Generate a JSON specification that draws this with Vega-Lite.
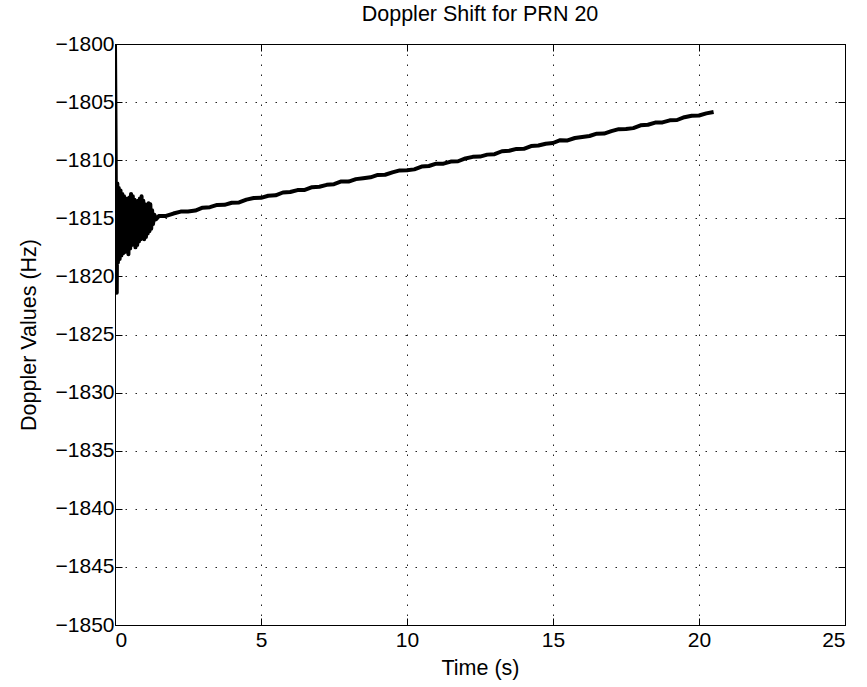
{
  "$schema": "https://vega.github.io/schema/vega-lite/v6.json",
  "width": 730,
  "height": 581,
  "autosize": {"type": "none"},
  "padding": {"left": 115, "top": 44, "right": 22, "bottom": 62},
  "background": "white",
  "title": {"text": "Doppler Shift for PRN 20", "font": "Liberation Sans", "fontSize": 21.5, "fontWeight": "normal", "color": "black", "offset": 8, "anchor": "middle"},
  "config": {
    "view": {"stroke": "black", "strokeWidth": 1},
    "axis": {"labelFont": "Liberation Sans", "titleFont": "Liberation Sans", "labelFontSize": 21, "titleFontSize": 21.5, "titleFontWeight": "normal", "labelColor": "black", "titleColor": "black", "domainColor": "black", "tickColor": "black", "gridColor": "#222", "gridDash": [1.5, 8.5], "gridWidth": 1, "gridOpacity": 1}
  },
  "data": {"values": [
    {"t": 0.0, "v": -1800},
    {"t": 0.02, "v": -1808},
    {"t": 0.04, "v": -1819},
    {"t": 0.06, "v": -1821.4},
    {"t": 0.08, "v": -1812},
    {"t": 0.10, "v": -1818.8},
    {"t": 0.13, "v": -1812.4},
    {"t": 0.16, "v": -1818.5},
    {"t": 0.19, "v": -1812.6},
    {"t": 0.22, "v": -1818.2},
    {"t": 0.25, "v": -1812.9},
    {"t": 0.28, "v": -1818},
    {"t": 0.31, "v": -1813.1},
    {"t": 0.34, "v": -1817.9},
    {"t": 0.37, "v": -1813.3},
    {"t": 0.40, "v": -1817.7},
    {"t": 0.43, "v": -1813.5},
    {"t": 0.46, "v": -1818.1},
    {"t": 0.49, "v": -1813.2},
    {"t": 0.52, "v": -1817.6},
    {"t": 0.55, "v": -1812.9},
    {"t": 0.58, "v": -1817.3},
    {"t": 0.61, "v": -1813.1},
    {"t": 0.64, "v": -1817.2},
    {"t": 0.67, "v": -1813.4},
    {"t": 0.70, "v": -1817.5},
    {"t": 0.73, "v": -1813.6},
    {"t": 0.76, "v": -1817.3},
    {"t": 0.79, "v": -1813.5},
    {"t": 0.82, "v": -1817},
    {"t": 0.85, "v": -1813.3},
    {"t": 0.88, "v": -1816.8},
    {"t": 0.91, "v": -1813.1},
    {"t": 0.94, "v": -1816.7},
    {"t": 0.97, "v": -1813.5},
    {"t": 1.00, "v": -1816.8},
    {"t": 1.03, "v": -1813.8},
    {"t": 1.06, "v": -1816.6},
    {"t": 1.09, "v": -1813.9},
    {"t": 1.12, "v": -1816.3},
    {"t": 1.15, "v": -1813.7},
    {"t": 1.18, "v": -1816.1},
    {"t": 1.21, "v": -1813.8},
    {"t": 1.24, "v": -1815.9},
    {"t": 1.27, "v": -1814.3},
    {"t": 1.30, "v": -1815.5},
    {"t": 1.35, "v": -1814.7},
    {"t": 1.40, "v": -1815.1},
    {"t": 1.50, "v": -1814.81},
    {"t": 1.75, "v": -1814.80},
    {"t": 2.00, "v": -1814.59},
    {"t": 2.25, "v": -1814.42},
    {"t": 2.50, "v": -1814.41},
    {"t": 2.75, "v": -1814.33},
    {"t": 3.00, "v": -1814.09},
    {"t": 3.25, "v": -1814.04},
    {"t": 3.50, "v": -1813.85},
    {"t": 3.75, "v": -1813.84},
    {"t": 4.00, "v": -1813.66},
    {"t": 4.25, "v": -1813.63},
    {"t": 4.50, "v": -1813.39},
    {"t": 4.75, "v": -1813.25},
    {"t": 5.00, "v": -1813.24},
    {"t": 5.25, "v": -1813.06},
    {"t": 5.50, "v": -1813.02},
    {"t": 5.75, "v": -1812.78},
    {"t": 6.00, "v": -1812.74},
    {"t": 6.25, "v": -1812.57},
    {"t": 6.50, "v": -1812.56},
    {"t": 6.75, "v": -1812.32},
    {"t": 7.00, "v": -1812.28},
    {"t": 7.25, "v": -1812.12},
    {"t": 7.50, "v": -1812.06},
    {"t": 7.75, "v": -1811.83},
    {"t": 8.00, "v": -1811.84},
    {"t": 8.25, "v": -1811.63},
    {"t": 8.50, "v": -1811.55},
    {"t": 8.75, "v": -1811.47},
    {"t": 9.00, "v": -1811.27},
    {"t": 9.25, "v": -1811.25},
    {"t": 9.50, "v": -1811.05},
    {"t": 9.75, "v": -1810.88},
    {"t": 10.00, "v": -1810.87},
    {"t": 10.25, "v": -1810.79},
    {"t": 10.50, "v": -1810.55},
    {"t": 10.75, "v": -1810.50},
    {"t": 11.00, "v": -1810.30},
    {"t": 11.25, "v": -1810.30},
    {"t": 11.50, "v": -1810.12},
    {"t": 11.75, "v": -1810.09},
    {"t": 12.00, "v": -1809.85},
    {"t": 12.25, "v": -1809.71},
    {"t": 12.50, "v": -1809.69},
    {"t": 12.75, "v": -1809.52},
    {"t": 13.00, "v": -1809.48},
    {"t": 13.25, "v": -1809.23},
    {"t": 13.50, "v": -1809.19},
    {"t": 13.75, "v": -1809.03},
    {"t": 14.00, "v": -1809.02},
    {"t": 14.25, "v": -1808.78},
    {"t": 14.50, "v": -1808.74},
    {"t": 14.75, "v": -1808.58},
    {"t": 15.00, "v": -1808.52},
    {"t": 15.25, "v": -1808.28},
    {"t": 15.50, "v": -1808.30},
    {"t": 15.75, "v": -1808.09},
    {"t": 16.00, "v": -1808.00},
    {"t": 16.25, "v": -1807.92},
    {"t": 16.50, "v": -1807.72},
    {"t": 16.75, "v": -1807.71},
    {"t": 17.00, "v": -1807.50},
    {"t": 17.25, "v": -1807.33},
    {"t": 17.50, "v": -1807.32},
    {"t": 17.75, "v": -1807.24},
    {"t": 18.00, "v": -1807.00},
    {"t": 18.25, "v": -1806.95},
    {"t": 18.50, "v": -1806.76},
    {"t": 18.75, "v": -1806.75},
    {"t": 19.00, "v": -1806.57},
    {"t": 19.25, "v": -1806.54},
    {"t": 19.50, "v": -1806.30},
    {"t": 19.75, "v": -1806.17},
    {"t": 20.00, "v": -1806.15},
    {"t": 20.25, "v": -1805.97},
    {"t": 20.50, "v": -1805.85}
  ]},
  "layer": [
    {
      "mark": {"type": "line", "color": "black", "strokeWidth": 4, "strokeJoin": "round", "clip": true},
      "encoding": {
        "x": {"field": "t", "type": "quantitative", "scale": {"domain": [0, 25], "nice": false}, "axis": {"title": "Time (s)", "values": [0, 5, 10, 15, 20, 25], "format": "d", "tickSize": -7, "labelPadding": 11, "titlePadding": 7, "grid": true}},
        "y": {"field": "v", "type": "quantitative", "scale": {"domain": [-1850, -1800], "nice": false, "zero": false}, "axis": {"title": "Doppler Values (Hz)", "values": [-1850, -1845, -1840, -1835, -1830, -1825, -1820, -1815, -1810, -1805, -1800], "format": "d", "tickSize": -7, "labelPadding": 8, "titlePadding": 15, "grid": true}}
      }
    },
    {
      "mark": {"type": "point", "opacity": 0},
      "encoding": {
        "x": {"field": "t", "type": "quantitative", "axis": {"orient": "top", "labels": false, "title": null, "values": [0, 5, 10, 15, 20, 25], "tickSize": -7, "grid": false}},
        "y": {"field": "v", "type": "quantitative", "axis": {"orient": "right", "labels": false, "title": null, "values": [-1850, -1845, -1840, -1835, -1830, -1825, -1820, -1815, -1810, -1805, -1800], "tickSize": -7, "grid": false}}
      }
    }
  ],
  "resolve": {"axis": {"x": "independent", "y": "independent"}}
}
